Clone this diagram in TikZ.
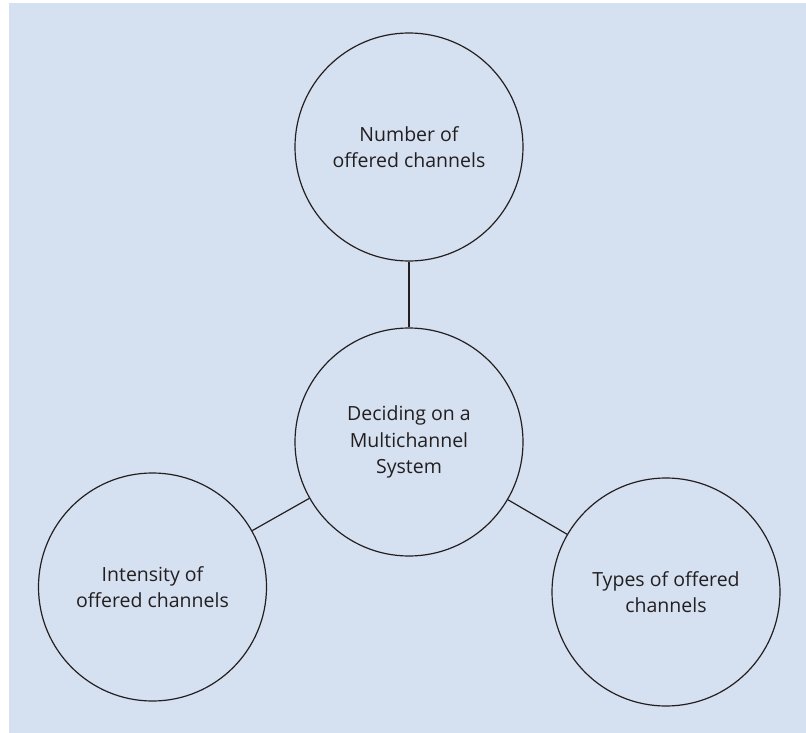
\documentclass[tikz,border=0pt]{standalone}
\usepackage{fontspec}
\setmainfont{Open Sans}
\definecolor{bgblue}{RGB}{213,224,240}
\definecolor{ink}{RGB}{35,31,32}
\begin{document}
\begin{tikzpicture}[x=1pt,y=-1pt,
  bubble/.style={circle,draw=ink,line width=1.2pt,minimum size=228pt,inner sep=0pt,
    align=center,text=ink,font=\fontsize{19.5}{26.5}\selectfont},
  link/.style={draw=ink,line width=1.2pt}]
\useasboundingbox (0,0) rectangle (806,733);
\fill[bgblue] (9,3) rectangle (806,733);
\node[bubble] (top) at (409,147) {Number of\\offered channels};
\node[bubble] (mid) at (409,442) {Deciding on a\\Multichannel\\System};
\node[bubble] (left) at (152.5,587) {Intensity of\\offered channels};
\node[bubble] (right) at (666,592) {Types of offered\\channels};
\draw[link] (top) -- (mid);
\draw[link] (mid) -- (left);
\draw[link] (mid) -- (right);
\end{tikzpicture}
\end{document}
